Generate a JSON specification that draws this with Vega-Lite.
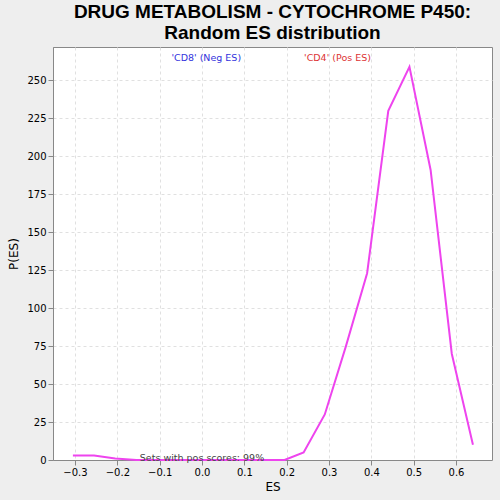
{
  "$schema": "https://vega.github.io/schema/vega-lite/v6.json",
  "autosize": "none",
  "width": 439,
  "height": 413,
  "padding": {"left": 53, "top": 47, "right": 8, "bottom": 40},
  "background": "#eeeeee",
  "config": {"view": {"stroke": "#888888", "fill": "white"}, "font": "DejaVu Sans"},
  "title": {"text": ["DRUG METABOLISM - CYTOCHROME P450:", "Random ES distribution"], "font": "Liberation Sans", "fontSize": 19, "fontWeight": "bold", "color": "black", "anchor": "middle", "offset": 4, "lineHeight": 21},
  "layer": [
    {
      "data": {"values": [
        {"es": -0.305, "p": 3}, {"es": -0.255, "p": 3}, {"es": -0.205, "p": 1}, {"es": -0.155, "p": 0},
        {"es": -0.105, "p": 0}, {"es": -0.055, "p": 0}, {"es": -0.005, "p": 0}, {"es": 0.045, "p": 0},
        {"es": 0.095, "p": 0}, {"es": 0.145, "p": 0}, {"es": 0.195, "p": 0}, {"es": 0.24, "p": 5},
        {"es": 0.29, "p": 30}, {"es": 0.34, "p": 75}, {"es": 0.39, "p": 123}, {"es": 0.44, "p": 230},
        {"es": 0.49, "p": 259}, {"es": 0.54, "p": 191}, {"es": 0.59, "p": 70}, {"es": 0.64, "p": 10}
      ]},
      "mark": {"type": "line", "color": "#ee44ee", "strokeWidth": 2},
      "encoding": {
        "x": {"field": "es", "type": "quantitative", "scale": {"domain": [-0.352, 0.685], "nice": false, "zero": false}, "title": "ES",
          "axis": {"values": [-0.3, -0.2, -0.1, 0, 0.1, 0.2, 0.3, 0.4, 0.5, 0.6], "format": ".1f", "grid": true, "gridDash": [3, 3], "gridColor": "#e0e0e0", "titleFontWeight": "normal", "titleFontSize": 12, "labelFontSize": 10}},
        "y": {"field": "p", "type": "quantitative", "scale": {"domain": [0, 272], "nice": false}, "title": "P(ES)",
          "axis": {"values": [0, 25, 50, 75, 100, 125, 150, 175, 200, 225, 250], "grid": true, "gridDash": [3, 3], "gridColor": "#e0e0e0", "titleFontWeight": "normal", "titleFontSize": 12, "labelFontSize": 10, "titlePadding": 6}}
      }
    },
    {
      "data": {"values": [
        {"es": 0.01, "p": 265, "t": "'CD8' (Neg ES)", "c": "neg"},
        {"es": 0.32, "p": 265, "t": "'CD4' (Pos ES)", "c": "pos"},
        {"es": 0.0, "p": 1.5, "t": "Sets with pos scores: 99%", "c": "other"}
      ]},
      "mark": {"type": "text", "fontSize": 9.5},
      "encoding": {
        "x": {"field": "es", "type": "quantitative"},
        "y": {"field": "p", "type": "quantitative"},
        "text": {"field": "t"},
        "color": {"field": "c", "type": "nominal", "legend": null, "scale": {"domain": ["neg", "pos", "other"], "range": ["#3333dd", "#dd3333", "#444444"]}}
      }
    }
  ]
}
